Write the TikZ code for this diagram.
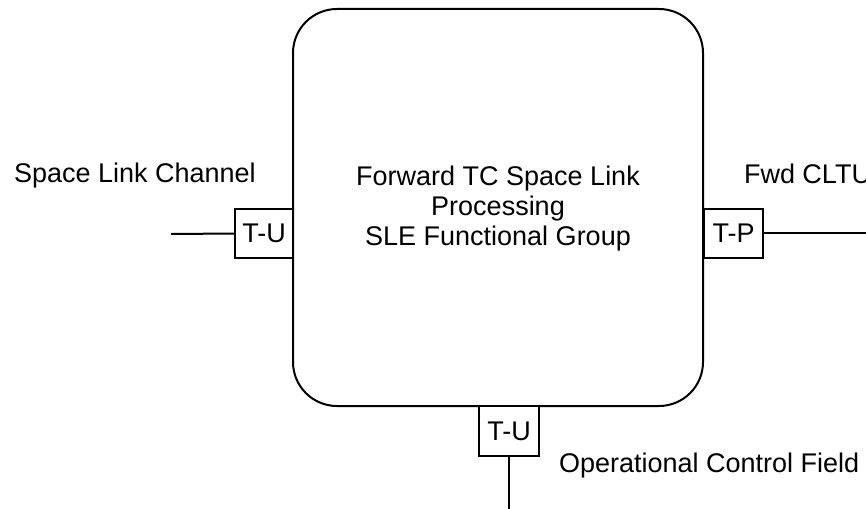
\documentclass[tikz,border=0pt]{standalone}
\usepackage{fontspec}
\setmainfont{Liberation Sans}
\begin{document}
\begin{tikzpicture}[x=1pt,y=-1pt,
  line width=2pt,
  every node/.style={font=\fontsize{27}{30}\selectfont},
  mainbox/.style={draw, rectangle, rounded corners=44pt, minimum width=410pt, minimum height=397pt, inner sep=0pt, align=center},
  port/.style={draw, rectangle, minimum width=58pt, minimum height=49pt, inner sep=0pt, fill=white},
  lbl/.style={inner sep=0pt, anchor=base west}]
\useasboundingbox (0,0) rectangle (866,508);
\node[mainbox] (main) at (498,207.5) {};
\node[inner sep=0pt, anchor=base] (t1) at (498,185) {Forward TC Space Link};
\node[inner sep=0pt, anchor=base] (t2) at (498,215) {Processing};
\node[inner sep=0pt, anchor=base] (t3) at (498,245) {SLE Functional Group};
\node[port] (pl) at (264,233.5) {T-U};
\node[port, minimum width=59pt] (pr) at (733.5,233) {T-P};
\node[port, minimum width=60pt, minimum height=50pt] (pb) at (509,431) {T-U};
\coordinate (lend) at (171,234);
\coordinate (rend) at (870,233);
\coordinate (bend) at (509,512);
\draw (lend) -- (pl.west);
\draw (pr.east) -- (rend);
\draw (pb.south) -- (bend);
\node[lbl] (sl) at (13,182) {Space Link Channel};
\node[lbl] (fc) at (743,183) {Fwd CLTU};
\node[lbl] (oc) at (558,472) {Operational Control Field};
\end{tikzpicture}
\end{document}
